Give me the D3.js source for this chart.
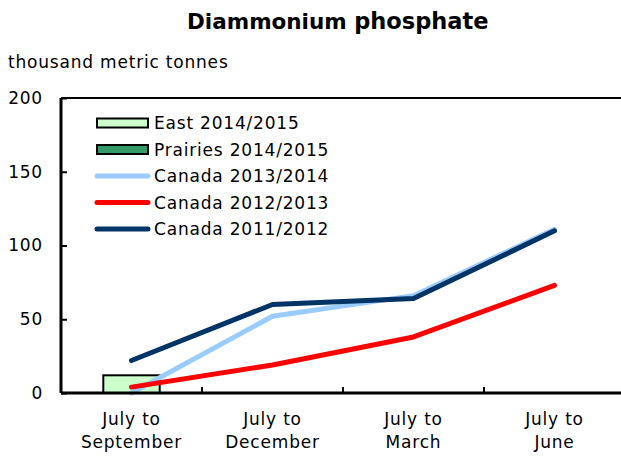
<!DOCTYPE html>
<html>
<head>
<meta charset="utf-8">
<script src="https://cdn.jsdelivr.net/npm/d3@7"></script>
<style>
  html, body { margin: 0; padding: 0; background: #fff; }
  svg { display: block; }
  text { font-family: "DejaVu Sans", Verdana, sans-serif; fill: #000; }
</style>
</head>
<body>
<svg id="chart" width="621" height="458"></svg>
<script>
// ---- data ----
const categories = [["July to", "September"], ["July to", "December"], ["July to", "March"], ["July to", "June"]];
const categoryKeys = ["Jul-Sep", "Jul-Dec", "Jul-Mar", "Jul-Jun"];
const east1415 = [12, null, null, null];
const prairies1415 = [0, null, null, null];
const canada1314 = [0, 52, 66, 111];
const canada1213 = [4, 19, 38, 73];
const canada1112 = [22, 60, 64, 110];
const yTicks = [0, 50, 100, 150, 200];

const lineSeries = [
  { name: "Canada 2013/2014", values: canada1314, color: "#99ccff" },
  { name: "Canada 2012/2013", values: canada1213, color: "#ff0000" },
  { name: "Canada 2011/2012", values: canada1112, color: "#003366" }
];
const legendItems = [
  { name: "East 2014/2015", type: "bar", color: "#ccffcc" },
  { name: "Prairies 2014/2015", type: "bar", color: "#339966" },
  { name: "Canada 2013/2014", type: "line", color: "#99ccff" },
  { name: "Canada 2012/2013", type: "line", color: "#ff0000" },
  { name: "Canada 2011/2012", type: "line", color: "#003366" }
];

// ---- layout ----
const svg = d3.select("#chart");
const mLeft = 61, mRight = 625, mTop = 98, mBottom = 393;

const x = d3.scaleBand().domain(categoryKeys).range([mLeft, mRight]).paddingInner(0).paddingOuter(0);
const y = d3.scaleLinear().domain([0, 200]).range([mBottom, mTop]);

// Title
const title = svg.append("text")
  .attr("x", 187).attr("y", 28.5)
  .attr("text-anchor", "start")
  .style("font-family", "'DejaVu Sans', Verdana, sans-serif")
  .style("font-weight", "bold");
title.append("tspan").style("font-size", "21.5px").text("Diammonium ");
title.append("tspan").style("font-size", "22.5px").text("phosphate");

// Unit label
svg.append("text")
  .attr("x", 8).attr("y", 68)
  .style("font-size", "17px").style("letter-spacing", "0.8px")
  .text("thousand metric tonnes");

// Top border
svg.append("line")
  .attr("x1", mLeft).attr("x2", 621).attr("y1", y(200)).attr("y2", y(200))
  .attr("stroke", "#000").attr("stroke-width", 2);

// Bars (East, Prairies stacked)
svg.append("g").selectAll("rect")
  .data(categoryKeys.map((k, i) => ({ k, v: east1415[i] })).filter(d => d.v != null))
  .join("rect")
  .attr("x", d => x(d.k) + x.bandwidth() * 0.3)
  .attr("width", x.bandwidth() * 0.4)
  .attr("y", d => y(d.v))
  .attr("height", d => y(0) - y(d.v))
  .attr("fill", "#ccffcc").attr("stroke", "#000").attr("stroke-width", 2);

// Lines
const line = d3.line()
  .defined(d => d.v != null)
  .x(d => x(d.k) + x.bandwidth() / 2)
  .y(d => y(d.v));
svg.append("g").selectAll("path")
  .data(lineSeries)
  .join("path")
  .attr("d", s => line(categoryKeys.map((k, i) => ({ k, v: s.values[i] }))))
  .attr("fill", "none")
  .attr("stroke", s => s.color)
  .attr("stroke-width", 5)
  .attr("stroke-linecap", "round")
  .attr("stroke-linejoin", "round");

// Y axis
const yAxis = d3.axisLeft(y).tickValues(yTicks).tickSize(-6).tickPadding(18).tickFormat(d3.format("d"));
const gy = svg.append("g").attr("transform", `translate(${mLeft},0)`).call(yAxis);
gy.select(".domain").attr("stroke", "#000").attr("stroke-width", 3).attr("d", `M0,${y(200)}V${y(0)}`);
gy.selectAll(".tick line").attr("stroke", "#000").attr("stroke-width", 2);
gy.selectAll(".tick text")
  .style("font-size", "17px").style("letter-spacing", "0.8px")
  .style("font-family", "'DejaVu Sans', Verdana, sans-serif")
  .attr("fill", "#000");

// X axis
const gx = svg.append("g").attr("transform", `translate(0,${mBottom})`);
gx.append("line").attr("x1", mLeft).attr("x2", 621).attr("stroke", "#000").attr("stroke-width", 3);
gx.selectAll(".xtick")
  .data(categoryKeys.slice(1))
  .join("line")
  .attr("class", "xtick")
  .attr("x1", d => x(d)).attr("x2", d => x(d))
  .attr("y1", 0).attr("y2", -6)
  .attr("stroke", "#000").attr("stroke-width", 2);
const xl = gx.selectAll(".xlabel")
  .data(categoryKeys)
  .join("text")
  .attr("class", "xlabel")
  .attr("text-anchor", "middle")
  .style("font-size", "17px").style("letter-spacing", "0.8px");
xl.each(function(d, i) {
  const t = d3.select(this);
  categories[i].forEach((ln, j) => {
    t.append("tspan").attr("x", x(d) + x.bandwidth() / 2).attr("y", 32 + j * 23).text(ln);
  });
});

// Legend
const lg = svg.append("g");
const rowY = [123, 149.5, 176, 202.5, 229];
legendItems.forEach((it, i) => {
  const g = lg.append("g").attr("transform", `translate(0,${rowY[i]})`);
  if (it.type === "bar") {
    g.append("rect").attr("x", 97).attr("y", -4.5).attr("width", 51).attr("height", 9)
      .attr("fill", it.color).attr("stroke", "#000").attr("stroke-width", 2);
  } else {
    g.append("line").attr("x1", 97).attr("x2", 148).attr("y1", 0).attr("y2", 0)
      .attr("stroke", it.color).attr("stroke-width", 5).attr("stroke-linecap", "round");
  }
  g.append("text").attr("x", 154).attr("y", 6)
    .style("font-size", "17px").style("letter-spacing", "0.8px")
    .text(it.name);
});
</script>
</body>
</html>
